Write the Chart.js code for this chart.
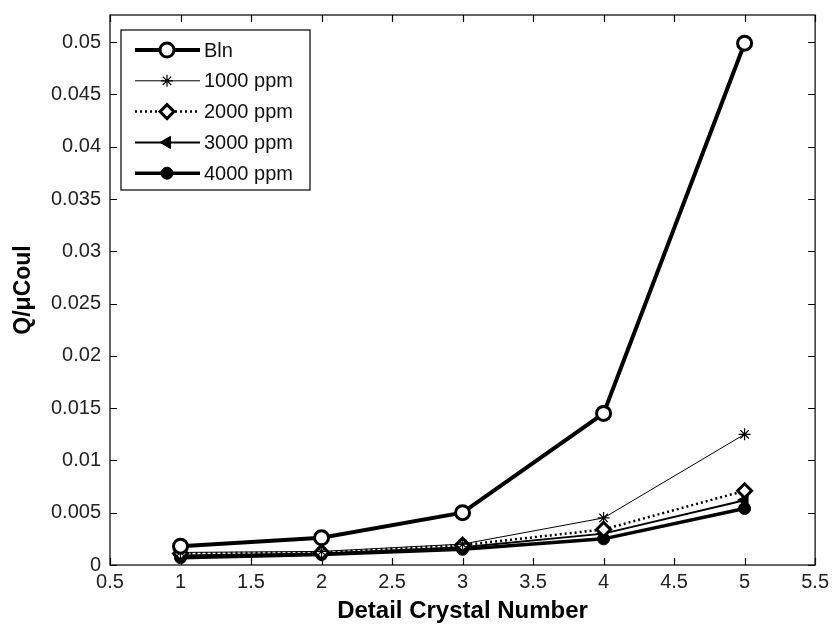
<!DOCTYPE html>
<html>
<head>
<meta charset="utf-8">
<script src="https://cdn.jsdelivr.net/npm/chart.js@4/dist/chart.umd.min.js"></script>
<style>
  html, body { margin: 0; padding: 0; background: #fff; }
  #wrap { width: 834px; height: 626px; }
</style>
</head>
<body>
<div id="wrap"><canvas id="chargeChart" width="834" height="626"></canvas></div>
<script>
const crystals = [1, 2, 3, 4, 5];
const seriesNames = ['Bln', '1000 ppm', '2000 ppm', '3000 ppm', '4000 ppm'];
const bln     = [0.0018, 0.0026, 0.0050, 0.0145, 0.0499];
const ppm1000 = [0.0012, 0.0013, 0.0020, 0.0045, 0.0125];
const ppm2000 = [0.0011, 0.0012, 0.0019, 0.0034, 0.0071];
const ppm3000 = [0.0009, 0.0011, 0.0017, 0.0030, 0.0062];
const ppm4000 = [0.0007, 0.0010, 0.0015, 0.0025, 0.0054];
const xTicks = [0.5, 1, 1.5, 2, 2.5, 3, 3.5, 4, 4.5, 5, 5.5];
const yTicks = [0, 0.005, 0.01, 0.015, 0.02, 0.025, 0.03, 0.035, 0.04, 0.045, 0.05];

const FONT = 'Arial, "Liberation Sans", sans-serif';

function toPoints(values) {
    return crystals.map((c, i) => ({ x: c, y: values[i] }));
}

const datasets = [
    { label: seriesNames[0], data: toPoints(bln), borderColor: '#000', borderWidth: 4,
      pointStyle: 'circle', pointRadius: 7, pointBorderWidth: 3, pointBackgroundColor: '#fff' },
    { label: seriesNames[1], data: toPoints(ppm1000), borderColor: '#000', borderWidth: 1,
      pointStyle: 'star', pointRadius: 6, pointBorderWidth: 1.2, pointBackgroundColor: '#000' },
    { label: seriesNames[2], data: toPoints(ppm2000), borderColor: '#000', borderWidth: 2.5,
      borderDash: [2, 3], pointStyle: 'rectRot', pointRadius: 7, pointBorderWidth: 3,
      pointBackgroundColor: '#fff' },
    { label: seriesNames[3], data: toPoints(ppm3000), borderColor: '#000', borderWidth: 2,
      pointStyle: 'triangle', pointRotation: -90, pointRadius: 7, pointBorderWidth: 1,
      pointBackgroundColor: '#000' },
    { label: seriesNames[4], data: toPoints(ppm4000), borderColor: '#000', borderWidth: 3.5,
      pointStyle: 'circle', pointRadius: 6, pointBorderWidth: 1, pointBackgroundColor: '#000' }
];
datasets.forEach(d => {
    d.pointBorderColor = '#000';
    d.fill = false;
    d.tension = 0;
});

// box, inward ticks and the legend, MATLAB style
const matlabAxes = {
    id: 'matlabAxes',
    afterDraw(chart) {
        const ctx = chart.ctx;
        const a = chart.chartArea;
        const xs = chart.scales.x, ys = chart.scales.y;
        ctx.save();
        ctx.strokeStyle = '#000';
        ctx.lineWidth = 1.2;
        ctx.strokeRect(a.left, a.top, a.right - a.left, a.bottom - a.top);
        ctx.beginPath();
        xTicks.forEach(v => {
            const px = Math.round(xs.getPixelForValue(v)) + 0.5;
            ctx.moveTo(px, a.bottom); ctx.lineTo(px, a.bottom - 7);
            ctx.moveTo(px, a.top); ctx.lineTo(px, a.top + 7);
        });
        yTicks.forEach(v => {
            const py = Math.round(ys.getPixelForValue(v)) + 0.5;
            ctx.moveTo(a.left, py); ctx.lineTo(a.left + 7, py);
            ctx.moveTo(a.right, py); ctx.lineTo(a.right - 7, py);
        });
        ctx.stroke();

        // legend
        const lx = a.left + 11, ly = a.top + 15, lw = 189, lh = 160;
        ctx.fillStyle = '#fff';
        ctx.fillRect(lx, ly, lw, lh);
        ctx.lineWidth = 1.2;
        ctx.strokeRect(lx, ly, lw, lh);
        ctx.font = '20px ' + FONT;
        ctx.textBaseline = 'middle';
        chart.data.datasets.forEach((d, i) => {
            const y = ly + 20 + i * 30.8;
            ctx.save();
            ctx.strokeStyle = d.borderColor;
            ctx.lineWidth = d.borderWidth;
            ctx.setLineDash(d.borderDash || []);
            ctx.beginPath();
            ctx.moveTo(lx + 14, y); ctx.lineTo(lx + 79, y);
            ctx.stroke();
            ctx.restore();
            ctx.save();
            ctx.fillStyle = d.pointBackgroundColor;
            ctx.strokeStyle = d.pointBorderColor;
            ctx.lineWidth = d.pointBorderWidth;
            Chart.helpers.drawPoint(ctx, {
                pointStyle: d.pointStyle,
                rotation: d.pointRotation || 0,
                radius: d.pointRadius,
                borderWidth: d.pointBorderWidth
            }, lx + 46, y);
            ctx.restore();
            ctx.fillStyle = '#111';
            ctx.fillText(d.label, lx + 83, y + 1);
        });
        ctx.restore();
    }
};

new Chart(document.getElementById('chargeChart'), {
    type: 'line',
    data: { datasets: datasets },
    options: {
        responsive: false,
        animation: false,
        layout: { padding: { left: 0, top: 15, right: 17, bottom: 0 } },
        plugins: { legend: { display: false }, tooltip: { enabled: false } },
        scales: {
            x: {
                type: 'linear',
                min: 0.5,
                max: 5.5,
                afterBuildTicks: s => { s.ticks = xTicks.map(v => ({ value: v })); },
                afterFit: s => { s.height = 61; },
                grid: { display: false, drawTicks: false },
                border: { display: false },
                ticks: {
                    color: '#222',
                    font: { family: FONT, size: 20 },
                    padding: 5,
                    maxRotation: 0,
                    callback: v => String(v)
                },
                title: {
                    display: true,
                    text: 'Detail Crystal Number',
                    color: '#000',
                    font: { family: FONT, size: 24, weight: 'bold' },
                    padding: { top: 0, bottom: 0 }
                }
            },
            y: {
                type: 'linear',
                min: 0,
                max: 0.0526,
                afterBuildTicks: s => { s.ticks = yTicks.map(v => ({ value: v })); },
                afterFit: s => {
                    s.width = 110;
                    s.paddingTop = 0;
                    s.paddingBottom = 0;
                },
                grid: { display: false, drawTicks: false },
                border: { display: false },
                ticks: {
                    color: '#222',
                    font: { family: FONT, size: 20 },
                    padding: 9,
                    callback: v => String(Number(v.toFixed(4)))
                },
                title: {
                    display: true,
                    text: 'Q/\u03bcCoul',
                    color: '#000',
                    font: { family: FONT, size: 23, weight: 'bold' },
                    padding: { top: 10, bottom: 0 }
                }
            }
        }
    },
    plugins: [matlabAxes]
});
</script>
</body>
</html>
